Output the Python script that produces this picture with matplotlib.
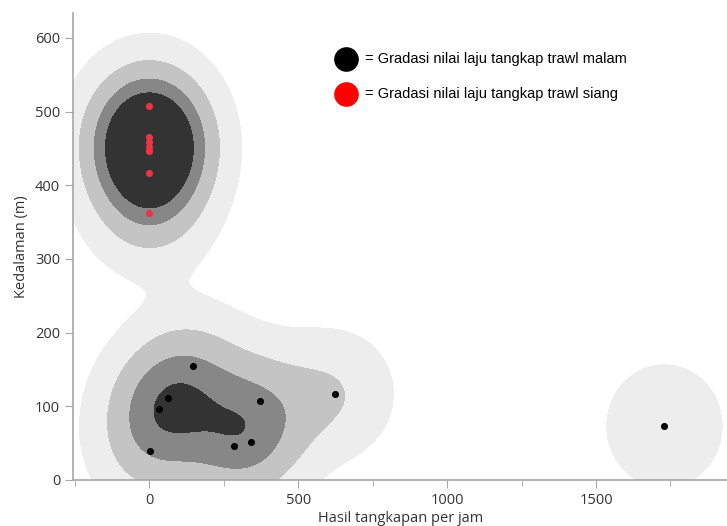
import numpy as np
import matplotlib
matplotlib.use("Agg")
import matplotlib.pyplot as plt
from matplotlib.ticker import MultipleLocator

# night (malam) catches: x = catch per hour, y = depth (m)
night_x = [3, 33, 64, 147, 284, 341, 371, 625, 1730]
night_y = [39, 96, 111, 155, 46, 52, 107, 117, 73]
# day (siang) catches
day_x = [0, 0, 0, 0, 0, 0, 0]
day_y = [508, 465, 459, 452, 447, 416, 362]

SX, SY = 130.0, 56.0          # kernel bandwidths
LEVELS = [0.33, 1.1, 2.05, 2.97, 99]
FILLS = ["#ededed", "#c4c4c4", "#878787", "#333333"]
INK = "#333333"
AXC = "#a6a6a6"


def density(gx, gy, xs, ys):
    d = np.zeros_like(gx)
    for x, y in zip(xs, ys):
        d += np.exp(-0.5 * ((gx - x) / SX) ** 2 - 0.5 * ((gy - y) / SY) ** 2)
    return d


def main():
    fig = plt.figure(figsize=(7.27, 5.26), dpi=100)
    ax = fig.add_axes([0.101, 0.0875, 0.899, 0.888])

    gx, gy = np.meshgrid(np.linspace(-400, 2100, 600), np.linspace(-200, 800, 400))
    z = density(gx, gy, night_x + day_x, night_y + day_y)
    ax.contourf(gx, gy, z, levels=LEVELS, colors=FILLS)

    ax.scatter(night_x, night_y, s=26, color="black", zorder=3, lw=0)
    ax.scatter(day_x, day_y, s=26, color="#ee3344", zorder=3, lw=0)

    ax.set_xlim(-255, 1940)
    ax.set_ylim(0, 634)
    ax.xaxis.set_major_locator(MultipleLocator(500))
    ax.xaxis.set_minor_locator(MultipleLocator(250))
    ax.yaxis.set_major_locator(MultipleLocator(100))

    for s in ("top", "right"):
        ax.spines[s].set_visible(False)
    for s in ("left", "bottom"):
        ax.spines[s].set_color(AXC)
        ax.spines[s].set_linewidth(1.2)
    ax.tick_params(which="both", colors=AXC, labelcolor=INK, labelsize=10.5)
    ax.tick_params(which="major", length=6)
    ax.tick_params(which="minor", length=4)
    for lab in ax.get_xticklabels() + ax.get_yticklabels():
        lab.set_family("Open Sans")

    ax.set_xlabel("Hasil tangkapan per jam", fontsize=10.5, color=INK,
                  family="Open Sans", labelpad=2)
    ax.set_ylabel("Kedalaman (m)", fontsize=10.5, color=INK,
                  family="Open Sans", labelpad=4)

    # hand-drawn style key
    ax.scatter([660], [571], s=280, color="black", clip_on=False, zorder=4)
    ax.scatter([660], [524], s=280, color="#ff0000", clip_on=False, zorder=4)
    ax.text(725, 571, "= Gradasi nilai laju tangkap trawl malam", fontsize=10.5,
            family="Liberation Sans", va="center", color="black")
    ax.text(725, 524, "= Gradasi nilai laju tangkap trawl siang", fontsize=10.5,
            family="Liberation Sans", va="center", color="black")

    fig.savefig("out.png", dpi=100)


if __name__ == "__main__":
    main()
